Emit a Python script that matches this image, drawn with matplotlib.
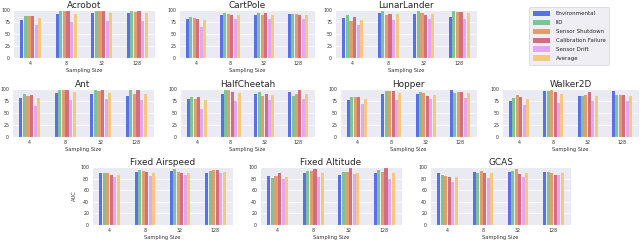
import numpy as np
import seaborn as sns
from matplotlib import pyplot as plt
from matplotlib.patches import Patch

sns.set_style('darkgrid')
plt.rcParams['font.family'] = ['DejaVu Sans']

sizes = ['4', '8', '32', '128']
methods = ['Environmental', 'IID', 'Sensor Shutdown', 'Calibration Failure', 'Sensor Drift', 'Average']
colors = ['#5a70e6', '#7cc496', '#e39d6c', '#d06f80', '#e2a6f2', '#f3ca7c']

# rows = sampling size, columns = method
acrobot = [[80, 88, 88, 88, 68, 83], [91, 100, 97, 100, 75, 92], [94, 100, 97, 100, 77, 93], [94, 100, 95, 100, 77, 93]]
cartpole = [[81, 85, 83, 81, 65, 79], [90, 93, 91, 90, 81, 90], [90, 93, 89, 93, 81, 90], [92, 92, 91, 90, 81, 89]]
lunarlander = [[83, 89, 77, 85, 69, 80], [93, 99, 89, 92, 80, 91], [92, 99, 94, 90, 82, 91], [85, 100, 95, 95, 82, 93]]
ant = [[81, 89, 86, 87, 65, 82], [92, 100, 100, 97, 78, 93], [90, 100, 96, 100, 79, 92], [85, 100, 89, 100, 78, 90]]
halfcheetah = [[80, 83, 79, 83, 59, 77], [90, 98, 98, 93, 76, 91], [90, 94, 85, 89, 77, 87], [94, 86, 90, 99, 80, 90]]
hopper = [[78, 83, 83, 83, 68, 79], [89, 95, 95, 95, 78, 91], [89, 94, 92, 85, 80, 88], [98, 91, 93, 93, 81, 91]]
walker2d = [[75, 82, 88, 83, 67, 79], [95, 95, 97, 93, 70, 90], [85, 86, 87, 93, 74, 85], [95, 88, 87, 87, 74, 86]]
fixed_airspeed = [[90, 90, 89, 87, 83, 87], [91, 95, 93, 91, 85, 90], [93, 96, 91, 90, 87, 90], [90, 93, 95, 94, 90, 91]]
fixed_altitude = [[84, 81, 84, 89, 79, 83], [90, 93, 93, 96, 82, 90], [87, 91, 91, 100, 88, 90], [89, 94, 91, 98, 80, 90]]
gcas = [[90, 86, 85, 83, 74, 83], [91, 90, 93, 90, 81, 89], [91, 93, 96, 88, 83, 90], [92, 92, 90, 87, 87, 90]]

W, H = 640, 242
fig = plt.figure(figsize=(6.4, 2.42), dpi=100)


def box(x0, x1, y0, y1):
    return [x0 / W, 1 - y1 / H, (x1 - x0) / W, (y1 - y0) / H]


def panel(rect, title, data, small=True, ylabel=None):
    ax = fig.add_axes(rect)
    data = np.array(data)
    x = np.arange(len(sizes))
    for i, m in enumerate(methods):
        ax.bar(x + (i - 2.5) * 0.1, data[:, i], width=0.088, color=colors[i],
               linewidth=0, zorder=2)
    ax.set_xlim(-0.5, 3.5)
    ax.set_ylim(0, 100)
    ax.set_xticks(x)
    ax.set_xticklabels(sizes)
    if small:
        ax.set_yticks([0, 25, 50, 75, 100])
    else:
        ax.set_yticks([0, 20, 40, 60, 80, 100])
    ax.tick_params(labelsize=3.4, pad=2, length=0, colors='#333333')
    ax.grid(axis='y', linewidth=0.5)
    ax.grid(axis='x', visible=False)
    ax.set_title(title, fontsize=6.4, pad=1.5)
    ax.set_xlabel('Sampling Size', fontsize=3.7, labelpad=1.5, color='#333333')
    if ylabel:
        ax.set_ylabel(ylabel, fontsize=3.7, labelpad=2, color='#333333')
    return ax


panel(box(13, 155, 10, 58), 'Acrobot', acrobot)
panel(box(179, 315, 10, 58), 'CartPole', cartpole)
panel(box(335, 477, 10, 58), 'LunarLander', lunarlander)

panel(box(12, 154, 89, 137), 'Ant', ant)
panel(box(180, 315, 89, 137), 'HalfCheetah', halfcheetah)
panel(box(340, 477, 89, 137), 'Hopper', hopper)
panel(box(502, 639, 89, 137), 'Walker2D', walker2d)

panel(box(92, 233, 167, 225), 'Fixed Airspeed', fixed_airspeed, small=False, ylabel='AUC')
panel(box(260, 402, 167, 225), 'Fixed Altitude', fixed_altitude, small=False)
panel(box(430, 571, 167, 225), 'GCAS', gcas, small=False)

handles = [Patch(facecolor=c, linewidth=0) for c in colors]
leg = fig.legend(handles, methods, loc='upper left', bbox_to_anchor=(529 / W, 1 - 7 / H),
                 borderaxespad=0, fontsize=4, frameon=True, handlelength=3.0, handleheight=1.1,
                 labelspacing=0.6, borderpad=0.7, handletextpad=1.1)
leg.get_frame().set_facecolor('#eaeaf2')
leg.get_frame().set_edgecolor('#cccccc')
leg.get_frame().set_linewidth(0.5)

plt.savefig('out.png', dpi=100)
